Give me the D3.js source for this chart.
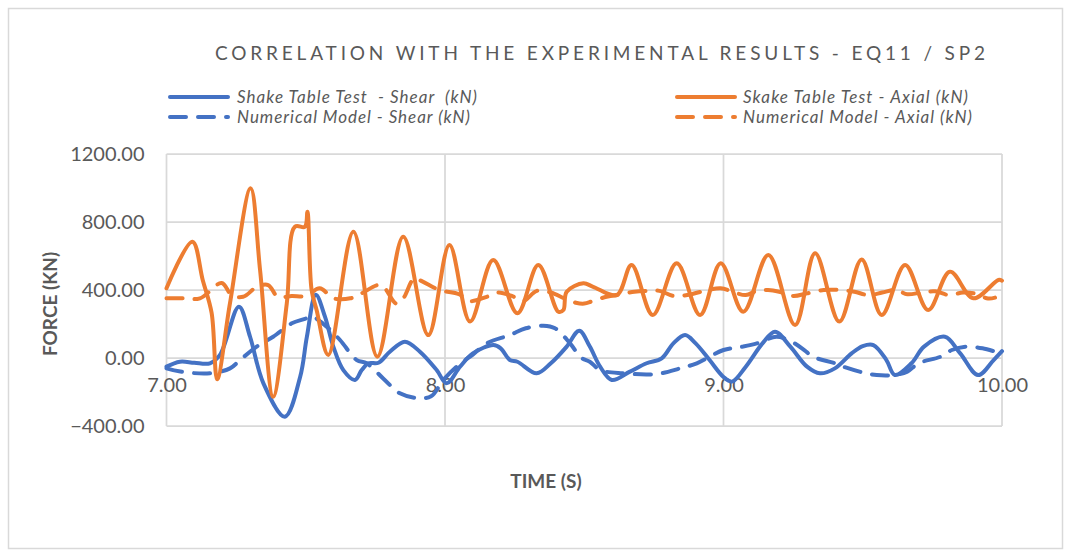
<!DOCTYPE html>
<html lang="en">
<head>
<meta charset="utf-8">
<title>Correlation with the experimental results - EQ11 / SP2</title>
<script src="https://d3js.org/d3.v7.min.js"></script>
<style>
  body { margin: 0; background: #ffffff; }
  text { font-family: Lato, "Open Sans", sans-serif; fill: #595959; }
</style>
</head>
<body>
<div id="chart"></div>
<script>
// ---- data (time in s, force in kN) ----
var stShearT = [7.000, 7.048, 7.100, 7.156, 7.192, 7.260, 7.300, 7.348, 7.425, 7.480, 7.504, 7.536, 7.569, 7.599, 7.635, 7.677, 7.701, 7.725, 7.761, 7.802, 7.856, 7.910, 7.970, 8.006, 8.054, 8.100, 8.174, 8.200, 8.233, 8.260, 8.329, 8.380, 8.437, 8.482, 8.520, 8.557, 8.599, 8.664, 8.724, 8.778, 8.820, 8.862, 8.900, 8.950, 8.999, 9.030, 9.080, 9.140, 9.185, 9.240, 9.300, 9.346, 9.400, 9.460, 9.500, 9.538, 9.585, 9.615, 9.675, 9.720, 9.795, 9.850, 9.914, 9.970, 10.000];
var stShearV = [-51, -22, -28, -31, 18, 302, 125, -149, -345, -110, 124, 372, 243, 67, -71, -129, -71, -31, -28, 37, 96, 37, -71, -149, -51, 27, 76, 57, -12, -22, -90, -31, 67, 160, 67, -51, -129, -80, -31, -2, 86, 135, 86, -12, -110, -139, -51, 86, 155, 67, -51, -90, -61, 27, 70, 76, -12, -100, -31, 67, 125, 27, -100, -12, 40];

var nmShearT = [7.000, 7.050, 7.156, 7.228, 7.264, 7.324, 7.383, 7.450, 7.497, 7.520, 7.575, 7.623, 7.683, 7.719, 7.778, 7.838, 7.900, 7.950, 7.994, 8.050, 8.100, 8.150, 8.233, 8.290, 8.353, 8.395, 8.449, 8.490, 8.520, 8.557, 8.640, 8.760, 8.844, 8.904, 9.000, 9.070, 9.120, 9.190, 9.240, 9.290, 9.320, 9.400, 9.430, 9.500, 9.550, 9.610, 9.660, 9.700, 9.780, 9.820, 9.870, 9.930, 9.990];
var nmShearV = [-61, -80, -90, -61, -12, 67, 125, 204, 230, 245, 184, 106, -12, -31, -120, -208, -235, -225, -129, -40, 20, 86, 135, 175, 190, 175, 86, 0, -22, -71, -90, -94, -61, -31, 47, 67, 86, 125, 100, 47, 8, -31, -51, -85, -100, -100, -80, -31, 8, 47, 67, 57, 30];

var stAxialT = [7.000, 7.093, 7.130, 7.162, 7.182, 7.228, 7.302, 7.336, 7.383, 7.432, 7.461, 7.497, 7.506, 7.521, 7.539, 7.581, 7.671, 7.757, 7.850, 7.940, 8.016, 8.090, 8.173, 8.260, 8.335, 8.407, 8.425, 8.437, 8.497, 8.532, 8.617, 8.670, 8.746, 8.832, 8.916, 8.990, 9.071, 9.161, 9.257, 9.329, 9.416, 9.496, 9.568, 9.652, 9.735, 9.813, 9.897, 9.987, 10.000];
var stAxialV = [410, 684, 459, 265, -125, 323, 998, 517, -228, 322, 772, 772, 860, 400, 282, 18, 743, 8, 713, 135, 664, 214, 576, 263, 547, 272, 282, 390, 439, 419, 370, 547, 253, 557, 253, 557, 272, 606, 194, 616, 214, 580, 253, 547, 282, 508, 351, 459, 455];

var nmAxialT = [7.000, 7.060, 7.120, 7.198, 7.234, 7.275, 7.325, 7.365, 7.400, 7.450, 7.500, 7.550, 7.600, 7.660, 7.700, 7.770, 7.825, 7.850, 7.890, 7.920, 7.980, 8.050, 8.090, 8.150, 8.190, 8.240, 8.280, 8.330, 8.380, 8.430, 8.470, 8.500, 8.530, 8.580, 8.630, 8.680, 8.730, 8.770, 8.820, 8.870, 8.920, 8.990, 9.040, 9.080, 9.120, 9.160, 9.200, 9.250, 9.300, 9.360, 9.420, 9.470, 9.520, 9.570, 9.620, 9.660, 9.710, 9.760, 9.810, 9.860, 9.900, 9.950, 9.975];
var nmAxialV = [351, 351, 351, 441, 370, 360, 419, 429, 360, 364, 364, 410, 351, 351, 380, 429, 320, 351, 469, 449, 400, 375, 335, 360, 385, 365, 335, 395, 385, 350, 325, 320, 335, 360, 375, 390, 395, 395, 365, 370, 390, 410, 385, 370, 395, 400, 390, 365, 380, 400, 400, 390, 370, 385, 400, 375, 385, 392, 370, 385, 380, 350, 355];

var yTicks = [-400, 0, 400, 800, 1200];
var xTicks = [7, 8, 9, 10];

var series = [
  { name: "Shake Table Test  - Shear  (kN)", t: stShearT, v: stShearV, color: "#4472C4", dash: null },
  { name: "Numerical Model - Shear (kN)", t: nmShearT, v: nmShearV, color: "#4472C4", dash: "16,12" },
  { name: "Skake Table Test - Axial (kN)", t: stAxialT, v: stAxialV, color: "#ED7D31", dash: null },
  { name: "Numerical Model - Axial (kN)", t: nmAxialT, v: nmAxialV, color: "#ED7D31", dash: "16,12" }
];

var width = 1071, height = 552;

var svg = d3.select("#chart").append("svg")
  .attr("width", width)
  .attr("height", height);

// chart area border
svg.append("rect")
  .attr("x", 8.5).attr("y", 8.5)
  .attr("width", 1054).attr("height", 540)
  .attr("fill", "#ffffff")
  .attr("stroke", "#d9d9d9")
  .attr("stroke-width", 1.5);

var x = d3.scaleLinear().domain([7, 10]).range([166.5, 1002]);
var y = d3.scaleLinear().domain([-400, 1200]).range([426, 154]);

// gridlines
svg.append("g")
  .selectAll("line")
  .data(yTicks)
  .enter().append("line")
  .attr("x1", x(7)).attr("x2", x(10))
  .attr("y1", function (d) { return y(d); })
  .attr("y2", function (d) { return y(d); })
  .attr("stroke", "#d9d9d9")
  .attr("stroke-width", 1.75);

svg.append("g")
  .selectAll("line")
  .data(xTicks)
  .enter().append("line")
  .attr("x1", function (d) { return x(d); })
  .attr("x2", function (d) { return x(d); })
  .attr("y1", y(1200)).attr("y2", y(-400))
  .attr("stroke", "#d9d9d9")
  .attr("stroke-width", 1.75);

// axes
var yAxis = svg.append("g")
  .attr("transform", "translate(" + x(7) + ",0)")
  .call(d3.axisLeft(y).tickValues(yTicks).tickFormat(d3.format(".2f")).tickSize(0).tickPadding(22));
yAxis.select(".domain").remove();
yAxis.selectAll("text")
  .style("font-family", "Lato, 'Open Sans', sans-serif")
  .style("font-size", "20px")
  .attr("fill", "#595959");

var xAxis = svg.append("g")
  .attr("transform", "translate(0," + y(0) + ")")
  .call(d3.axisBottom(x).tickValues(xTicks).tickFormat(d3.format(".2f")).tickSize(0).tickPadding(20));
xAxis.select(".domain").remove();
xAxis.selectAll("text")
  .style("font-family", "Lato, 'Open Sans', sans-serif")
  .style("font-size", "20px")
  .attr("fill", "#595959");

// lines
var line = d3.line()
  .x(function (d) { return x(d[0]); })
  .y(function (d) { return y(d[1]); })
  .curve(d3.curveCatmullRom.alpha(0.5));

series.forEach(function (s) {
  var pts = s.t.map(function (t, i) { return [t, s.v[i]]; });
  svg.append("path")
    .datum(pts)
    .attr("d", line)
    .attr("fill", "none")
    .attr("stroke", s.color)
    .attr("stroke-width", 4)
    .attr("stroke-linejoin", "round")
    .attr("stroke-linecap", "round")
    .attr("stroke-dasharray", s.dash);
});

// title
svg.append("text")
  .attr("x", 215).attr("y", 60)
  .attr("textLength", 770)
  .attr("lengthAdjust", "spacing")
  .style("font-size", "19px")
  .text("CORRELATION WITH THE EXPERIMENTAL RESULTS - EQ11 / SP2");

// legend
var legendPos = [
  { lx: 170, tx: 237, y: 97, w: 240 },
  { lx: 170, tx: 237, y: 117, w: 233 },
  { lx: 677, tx: 743, y: 97, w: 225 },
  { lx: 677, tx: 743, y: 117, w: 229 }
];
series.forEach(function (s, i) {
  var p = legendPos[i];
  svg.append("line")
    .attr("x1", p.lx).attr("x2", p.lx + 58)
    .attr("y1", p.y).attr("y2", p.y)
    .attr("stroke", s.color)
    .attr("stroke-width", 4)
    .attr("stroke-linecap", "round")
    .attr("stroke-dasharray", s.dash);
  svg.append("text")
    .attr("x", p.tx).attr("y", p.y + 6)
    .attr("textLength", p.w)
    .attr("lengthAdjust", "spacing")
    .style("font-size", "17px")
    .style("font-style", "italic")
    .style("white-space", "pre")
    .text(s.name);
});

// axis titles
svg.append("text")
  .attr("transform", "translate(57,304) rotate(-90)")
  .attr("text-anchor", "middle")
  .style("font-size", "19px")
  .style("font-weight", "bold")
  .text("FORCE (KN)");

svg.append("text")
  .attr("x", 546).attr("y", 488)
  .attr("text-anchor", "middle")
  .style("font-size", "19px")
  .style("font-weight", "bold")
  .text("TIME (S)");
</script>
</body>
</html>
